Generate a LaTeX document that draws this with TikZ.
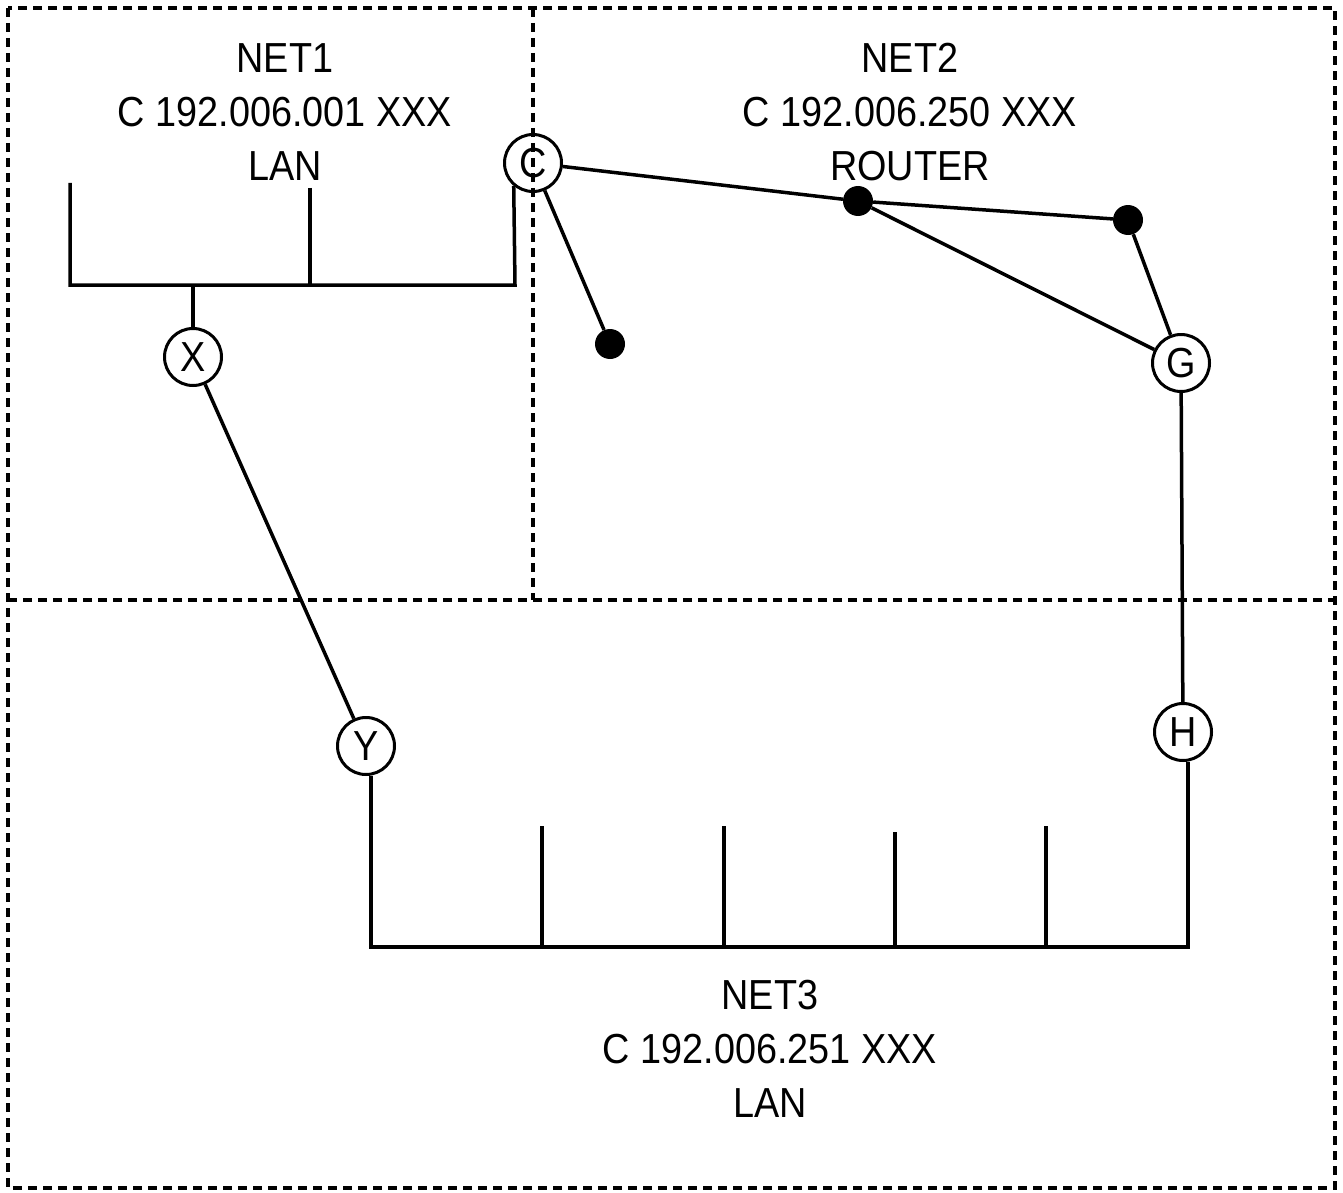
\documentclass[tikz,border=0pt]{standalone}
\usepackage{fontspec}
\setmainfont[FakeStretch=0.9]{Liberation Sans}
\begin{document}
\begin{tikzpicture}[x=1pt,y=-1pt,
  wire/.style={line width=3.5pt},
  zone/.style={line width=3.5pt,dash pattern=on 9pt off 6pt},
  station/.style={circle,draw,line width=3pt,minimum size=57pt,inner sep=0pt,font=\fontsize{42}{42}\selectfont},
  dot/.style={circle,fill=black,minimum size=30pt,inner sep=0pt},
  label/.style={align=center,font=\fontsize{42}{54}\selectfont}]
\useasboundingbox (0,0) rectangle (1343,1193);
% zones
\draw[zone] (8,8) rectangle (1335,1188);
\coordinate (vt) at (533,8);
\coordinate (vb) at (533,600);
\coordinate (hl) at (8,600);
\coordinate (hr) at (1335,600);
\draw[zone] (vt) -- (vb);
\draw[zone] (hl) -- (hr);
% labels
\node[label] (n1) at (285,112) {NET1\\C 192.006.001 XXX\\LAN};
\node[label] (n2) at (910,112) {NET2\\C 192.006.250 XXX\\ROUTER};
\node[label] (n3) at (770,1049) {NET3\\C 192.006.251 XXX\\LAN};
% stations
\node[station] (C) at (533,163) {C};
\node[station] (X) at (193,357) {X};
\node[station] (Y) at (366,746) {Y};
\node[station] (G) at (1181,363) {G};
\node[station] (H) at (1183,732) {H};
\node[dot] (d1) at (610,344) {};
\node[dot] (d2) at (858,201) {};
\node[dot] (d3) at (1128,220) {};
% NET1 bus
\coordinate (b1l) at (70,285);
\coordinate (b1r) at (515,285);
\coordinate (t1a) at (70,183);
\coordinate (t1b) at (310,188);
\coordinate (t1bb) at (310,285);
\coordinate (xb) at (193,285);
\draw[wire,line join=miter] (t1a) -- (b1l) -- (b1r) -- (C.230);
\draw[wire] (t1b) -- (t1bb);
\draw[wire] (xb) -- (X);
% router links
\draw[wire] (C) -- (d1);
\draw[wire] (C) -- (d2);
\draw[wire] (d2) -- (d3);
\draw[wire] (d2) -- (G);
\draw[wire] (d3) -- (G);
\draw[wire] (G) -- (H);
\draw[wire] (X) -- (Y);
% NET3 bus
\coordinate (b3l) at (372,947);
\coordinate (b3r) at (1188,947);
\draw[wire,line join=miter] (Y.280) -- (Y.280 |- b3l) -- (b3r) -- (b3r |- H.south);
\coordinate (t3a) at (542,826);
\coordinate (t3b) at (724,826);
\coordinate (t3c) at (895,832);
\coordinate (t3d) at (1046,826);
\draw[wire] (t3a) -- (t3a |- b3l);
\draw[wire] (t3b) -- (t3b |- b3l);
\draw[wire] (t3c) -- (t3c |- b3l);
\draw[wire] (t3d) -- (t3d |- b3l);
\end{tikzpicture}
\end{document}
